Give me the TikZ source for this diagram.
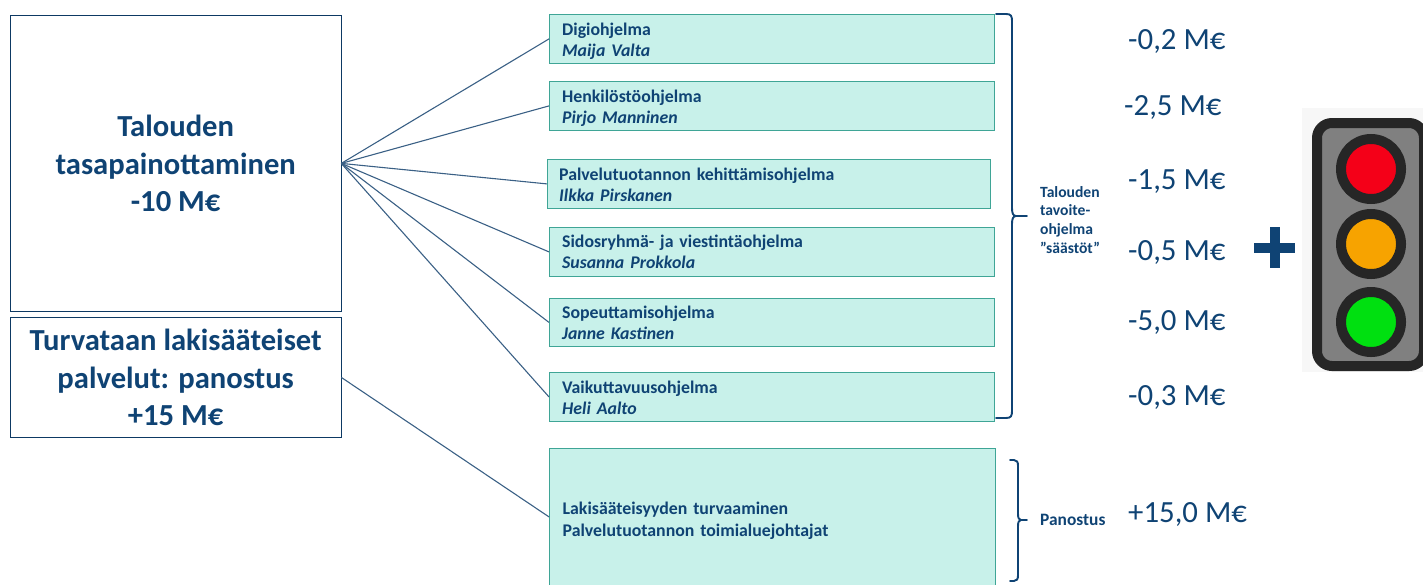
\documentclass[tikz,border=0pt]{standalone}
\usepackage{fontspec}
\setmainfont{Carlito}
\definecolor{navy}{HTML}{0F4374}
\definecolor{boxfill}{HTML}{C8F1EA}
\definecolor{boxedge}{HTML}{3FA596}
\definecolor{linkc}{HTML}{3A6085}
\tikzset{
  x=1pt,y=-1pt,
  leftbox/.style={draw=navy!85!black,line width=.8pt,fill=white,inner sep=0pt,align=center,text=navy,font=\fontsize{30.6}{37.5}\selectfont\bfseries},
  prog/.style={draw=boxedge,line width=.8pt,fill=boxfill,inner sep=0pt,text=navy,font=\fontsize{17.8}{21.2}\selectfont\bfseries,align=left,text width=419pt,anchor=north west},
  link/.style={draw=linkc,line width=1.1pt},
  brace/.style={draw=navy,line width=1.9pt,line cap=round},
  amount/.style={text=navy,inner sep=0pt,font=\fontsize{30.8}{32}\selectfont},
  small/.style={text=navy,inner sep=0pt,align=left,font=\fontsize{15.6}{18.7}\selectfont\bfseries},
  plusbar/.style={draw=navy,line width=10pt,rounded corners=1pt}
}
\begin{document}
\begin{tikzpicture}
\useasboundingbox (0,0) rectangle (1423,584);
\begin{scope}
\clip (0,0) rectangle (1423,584);
\node[leftbox,minimum width=330.5pt,minimum height=296pt,anchor=north west] (a) at (10,15) {Talouden\\tasapainottaminen\\-10 M€};
\node[leftbox,minimum width=330.5pt,minimum height=120pt,anchor=north west] (b) at (10,317) {Turvataan lakisääteiset\\palvelut: panostus\\+15 M€};
\node[prog,minimum width=444.5pt,minimum height=49pt,text height=17pt] (p1) at (549,14) {Digiohjelma\\\textit{Maija Valta}};
\node[prog,minimum width=444.5pt,minimum height=49pt,text height=17pt] (p2) at (549,81) {Henkilöstöohjelma\\\textit{Pirjo Manninen}};
\node[prog,minimum width=442.5pt,minimum height=49pt,text height=15pt] (p3) at (547,159) {Palvelutuotannon kehittämisohjelma\\\textit{Ilkka Pirskanen}};
\node[prog,minimum width=444.5pt,minimum height=49pt,text height=13pt] (p4) at (549,227) {Sidosryhmä- ja viestintäohjelma\\\textit{Susanna Prokkola}};
\node[prog,minimum width=444.5pt,minimum height=48pt,text height=13pt] (p5) at (549,298) {Sopeuttamisohjelma\\\textit{Janne Kastinen}};
\node[prog,minimum width=444.5pt,minimum height=49pt,text height=14pt] (p6) at (549,372) {Vaikuttavuusohjelma\\\textit{Heli Aalto}};
\node[prog,minimum width=445.5pt,minimum height=137pt,text height=20pt] (p7) at (549,448) {Lakisääteisyyden turvaaminen\\Palvelutuotannon toimialuejohtajat};
\end{scope}
\foreach \t in {p1,p2,p3,p4,p5,p6} \draw[link] (a.east) -- (\t.west);
\draw[link] (b.east) -- (p7.west);
% braces
\draw[brace] (996,14) -- (1006,14) .. controls (1011,14) and (1012,16) .. (1012,21) -- (1012,208) .. controls (1012,213) and (1013,216) .. (1016,216) -- (1027,216);
\draw[brace] (1016,216) .. controls (1013,216) and (1012,219) .. (1012,224) -- (1012,411) .. controls (1012,416) and (1011,418) .. (1006,418) -- (996,418);
\draw[brace] (1010,460) -- (1014,460) .. controls (1017,460) and (1018,462) .. (1018,466) -- (1018,514) .. controls (1018,518) and (1019,520) .. (1021,520) -- (1027,520);
\draw[brace] (1021,520) .. controls (1019,520) and (1018,522) .. (1018,526) -- (1018,575) .. controls (1018,579) and (1017,581) .. (1014,581) -- (1010,581);
\node[small,anchor=north west] (t1) at (1040,186) {Talouden\\tavoite-\\ohjelma\\”säästöt”};
\node[small,anchor=west,font=\fontsize{17.4}{20}\selectfont\bfseries] (t2) at (1040,520) {Panostus};
\node[amount,anchor=west] (m1) at (1128,41.5) {-0,2 M€};
\node[amount,anchor=west] (m2) at (1124,107.5) {-2,5 M€};
\node[amount,anchor=west] (m3) at (1128,182) {-1,5 M€};
\node[amount,anchor=west] (m4) at (1128,252.5) {-0,5 M€};
\node[amount,anchor=west] (m5) at (1128,322) {-5,0 M€};
\node[amount,anchor=west] (m6) at (1128,397.5) {-0,3 M€};
\node[amount,anchor=west] (m7) at (1128,514.5) {+15,0 M€};
% plus
\draw[navy,line width=10pt] (1254,248) -- (1295,248);
\draw[navy,line width=10pt] (1274.5,227) -- (1274.5,268);
% traffic light
\fill[black!3] (1302,108) rectangle (1423,372);
\begin{scope}
\clip (1302,108) rectangle (1423,372);
\draw[draw=black!85,fill=black!50,line width=10pt,rounded corners=15pt] (1317,123) rectangle (1424,366);
\foreach \cy/\col in {169/F40018,244/F7A300,322/00E010}{
  \definecolor{lampc}{HTML}{\col}
  \draw[draw=black!85,fill=lampc,line width=10pt] (1371,\cy) circle (30);
}
\end{scope}
\end{tikzpicture}
\end{document}
